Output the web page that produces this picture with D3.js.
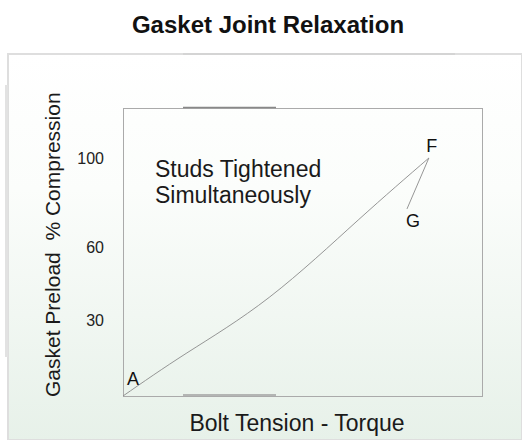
<!DOCTYPE html>
<html>
<head>
<meta charset="utf-8">
<script src="https://d3js.org/d3.v7.min.js"></script>
<style>
  body { margin: 0; background: #fff; }
  svg { display: block; font-family: "Liberation Sans", Arial, sans-serif; }
</style>
</head>
<body>
<div id="vis"></div>
<script>
var width = 522, height = 440;

// loading curve A -> F (torque %, compression %)
var curveX = [0, 17.8, 40.9, 65.5, 85.2];
var curveY = [0, 17.0, 39.5, 72.1, 100];
// relaxation F -> G
var relaxX = [85.2, 79.1];
var relaxY = [100, 77.1];

var yTicks = [30, 60, 100];
var pointLabels = ["A", "F", "G"];

var svg = d3.select("#vis").append("svg")
    .attr("width", width)
    .attr("height", height);

var defs = svg.append("defs");
var grad = defs.append("linearGradient")
    .attr("id", "bg")
    .attr("x1", 0).attr("y1", 0).attr("x2", 0).attr("y2", 1);
grad.append("stop").attr("offset", "0%").attr("stop-color", "#ffffff");
grad.append("stop").attr("offset", "35%").attr("stop-color", "#fbfdfb");
grad.append("stop").attr("offset", "100%").attr("stop-color", "#e7f1e9");

// panel
svg.append("rect")
    .attr("x", 8).attr("y", 54)
    .attr("width", width - 8).attr("height", height - 54)
    .attr("fill", "url(#bg)")
    .attr("stroke", "#dedede")
    .attr("stroke-width", 2);
svg.append("line")
    .attr("x1", 183).attr("x2", 455).attr("y1", 54).attr("y2", 54)
    .attr("stroke", "#d4d4d4").attr("stroke-width", 2);
svg.append("rect")
    .attr("x", 5).attr("y", 85).attr("width", 3).attr("height", 272)
    .attr("fill", "#e2e2e2");

// title
svg.append("text")
    .attr("x", 268).attr("y", 33)
    .attr("text-anchor", "middle")
    .style("font-size", "24px")
    .style("font-weight", "bold")
    .attr("fill", "#111")
    .text("Gasket Joint Relaxation");

var x = d3.scaleLinear().domain([0, 100]).range([123, 482]);
// the diagram's y spacing is not uniform, so use a piecewise scale
var y = d3.scaleLinear().domain([0, 30, 60, 100, 121]).range([396, 320, 247, 158, 108]);

var plot = svg.append("g").attr("class", "plot");

plot.append("rect")
    .attr("x", x(0) + 0.5).attr("y", y(121) + 0.5)
    .attr("width", x(100) - x(0)).attr("height", y(0) - y(121))
    .attr("fill", "none")
    .attr("stroke", "#aaa");

plot.append("line")
    .attr("x1", 183).attr("x2", 276).attr("y1", y(121) - 0.5).attr("y2", y(121) - 0.5)
    .attr("stroke", "#888").attr("stroke-width", 1.6);
plot.append("line")
    .attr("x1", 183).attr("x2", 276).attr("y1", y(0) - 1).attr("y2", y(0) - 1)
    .attr("stroke", "#a0a0a0").attr("stroke-width", 1.3);

var yAxis = d3.axisLeft(y).tickValues(yTicks).tickSize(0).tickPadding(0);
var gY = plot.append("g")
    .attr("class", "y-axis")
    .attr("transform", "translate(104,0)")
    .call(yAxis);
gY.select(".domain").remove();
gY.selectAll("text")
    .style("font-size", "16px")
    .style("font-family", "\"Liberation Sans\", Arial, sans-serif")
    .attr("fill", "#222");

var pts = curveX.map(function(d, i) { return [d, curveY[i]]; });
var relax = relaxX.map(function(d, i) { return [d, relaxY[i]]; });

var line = d3.line()
    .x(function(d) { return x(d[0]); })
    .y(function(d) { return y(d[1]); })
    .curve(d3.curveNatural);

plot.append("path")
    .datum(pts)
    .attr("d", line)
    .attr("fill", "none")
    .attr("stroke", "#8a8a8a")
    .attr("stroke-width", 0.9);

plot.append("path")
    .datum(relax)
    .attr("d", line.curve(d3.curveLinear))
    .attr("fill", "none")
    .attr("stroke", "#8a8a8a")
    .attr("stroke-width", 0.9);

// point labels
var labelPos = [
  { p: pts[0], dx: 4, dy: -11, anchor: "start" },
  { p: pts[pts.length - 1], dx: 3, dy: -6, anchor: "middle" },
  { p: relax[1], dx: 6, dy: 18, anchor: "middle" }
];
plot.selectAll(".pt-label")
    .data(labelPos)
    .enter().append("text")
    .attr("class", "pt-label")
    .attr("x", function(d) { return x(d.p[0]) + d.dx; })
    .attr("y", function(d) { return y(d.p[1]) + d.dy; })
    .attr("text-anchor", function(d) { return d.anchor; })
    .style("font-size", "18px")
    .attr("fill", "#111")
    .text(function(d, i) { return pointLabels[i]; });

// annotation
var note = plot.append("text")
    .attr("x", 155).attr("y", 177)
    .style("font-size", "23px")
    .attr("fill", "#1a1a1a");
note.append("tspan").attr("x", 155).text("Studs Tightened");
note.append("tspan").attr("x", 155).attr("dy", 26).text("Simultaneously");

// axis titles
svg.append("text")
    .attr("x", 297).attr("y", 431)
    .attr("text-anchor", "middle")
    .style("font-size", "23px")
    .attr("fill", "#1a1a1a")
    .text("Bolt Tension - Torque");

svg.append("text")
    .attr("transform", "translate(60,397) rotate(-90)")
    .attr("text-anchor", "start")
    .style("font-size", "21px")
    .style("white-space", "pre")
    .attr("xml:space", "preserve")
    .attr("fill", "#1a1a1a")
    .text("Gasket Preload  % Compression");
</script>
</body>
</html>
